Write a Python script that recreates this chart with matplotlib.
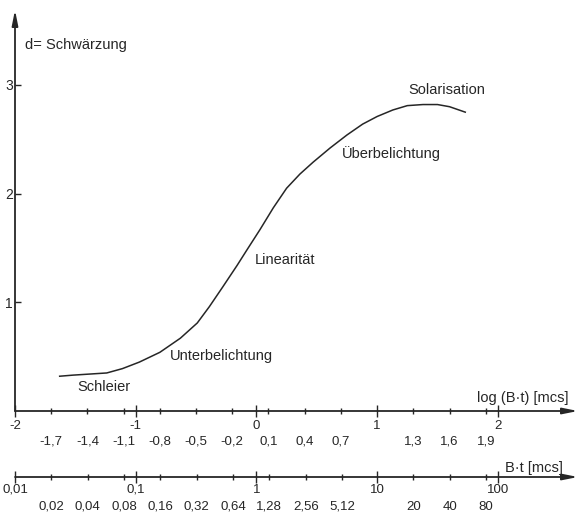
import numpy as np
import matplotlib
matplotlib.use("Agg")
import matplotlib.pyplot as plt

plt.rcParams['font.family'] = ['Liberation Sans', 'DejaVu Sans']

# characteristic curve: log(B*t) -> d
log_bt = [-1.63, -1.52, -1.38, -1.24, -1.11, -0.97, -0.80, -0.63, -0.49, -0.39,
          -0.28, -0.16, -0.08, 0.03, 0.14, 0.25, 0.36, 0.47, 0.61, 0.75,
          0.88, 1.00, 1.13, 1.25, 1.38, 1.50, 1.60, 1.73]
density = [0.32, 0.33, 0.34, 0.35, 0.39, 0.45, 0.54, 0.67, 0.81, 0.96,
           1.14, 1.34, 1.48, 1.67, 1.87, 2.05, 2.18, 2.29, 2.42, 2.54,
           2.64, 2.71, 2.77, 2.81, 2.82, 2.82, 2.80, 2.75]

log_major = [-2, -1, 0, 1, 2]
log_major_labels = ["-2", "-1", "0", "1", "2"]
log_minor = [-1.7, -1.4, -1.1, -0.8, -0.5, -0.2, 0.1, 0.4, 0.7, 1.3, 1.6, 1.9]
log_minor_labels = ["-1,7", "-1,4", "-1,1", "-0,8", "-0,5", "-0,2",
                    "0,1", "0,4", "0,7", "1,3", "1,6", "1,9"]

bt_major = [0.01, 0.1, 1, 10, 100]
bt_major_labels = ["0,01", "0,1", "1", "10", "100"]
bt_minor = [0.02, 0.04, 0.08, 0.16, 0.32, 0.64, 1.28, 2.56, 5.12, 20, 40, 80]
bt_minor_labels = ["0,02", "0,04", "0,08", "0,16", "0,32", "0,64",
                   "1,28", "2,56", "5,12", "20", "40", "80"]

d_ticks = [1, 2, 3]

INK = "#262626"
W, H = 579, 515


def fx(px):
    return px / W


def fy(py):
    return 1 - py / H


fig = plt.figure(figsize=(W / 100, H / 100), dpi=100)

# main diagram
ax = fig.add_axes([fx(15), fy(411), fx(578) - fx(15), fy(10) - fy(411)])
ax.set_xlim(-2, 2.664)
ax.set_ylim(0, 3.69)
for s in ax.spines.values():
    s.set_visible(False)
ax.patch.set_alpha(0)

ax.plot(log_bt, density, color=INK, lw=1.1)

arrow = dict(arrowstyle="-|>,head_length=0.9,head_width=0.18", lw=1.3,
             color=INK, shrinkA=0, shrinkB=0)
ax.annotate("", xy=(1, 0), xytext=(0, 0), xycoords="axes fraction",
            arrowprops=arrow, annotation_clip=False)
ax.annotate("", xy=(0, 1), xytext=(0, 0), xycoords="axes fraction",
            arrowprops=arrow, annotation_clip=False)

ax.set_xticks(log_major, log_major_labels)
ax.set_xticks(log_minor, log_minor_labels, minor=True)
ax.tick_params(axis="x", which="major", direction="inout", length=9,
               width=1, color=INK, labelcolor=INK, labelsize=9.5, pad=2)
ax.tick_params(axis="x", which="minor", direction="inout", length=4,
               width=1, color=INK, labelcolor=INK, labelsize=9.5, pad=16)
ax.set_yticks(d_ticks, [str(v) for v in d_ticks])
ax.tick_params(axis="y", direction="in", length=4, width=1, color=INK,
               labelcolor=INK, labelsize=10, pad=1.5)

txt = dict(color=INK, fontsize=10.5, ha="left", va="center")
ax.text(-1.918, 3.367, "d= Schwärzung", **txt)
ax.text(1.255, 2.953, "Solarisation", **txt)
ax.text(0.706, 2.374, "Überbelichtung", **txt)
ax.text(-0.012, 1.389, "Linearität", **txt)
ax.text(-0.72, 0.506, "Unterbelichtung", **txt)
ax.text(-1.487, 0.221, "Schleier", **txt)
ax.text(1.827, 0.12, "log (B·t) [mcs]", **txt)

# B*t scale below
ax2 = fig.add_axes([fx(15), fy(477), fx(578) - fx(15), 0.01])
ax2.set_xscale("log")
ax2.set_xlim(1e-2, 10 ** 2.664)
for s in ax2.spines.values():
    s.set_visible(False)
ax2.patch.set_alpha(0)
ax2.set_yticks([])
ax2.annotate("", xy=(1, 0), xytext=(0, 0), xycoords="axes fraction",
             arrowprops=arrow, annotation_clip=False)
ax2.set_xticks(bt_major, bt_major_labels)
ax2.set_xticks(bt_minor, bt_minor_labels, minor=True)
ax2.tick_params(axis="x", which="major", direction="inout", length=9,
                width=1, color=INK, labelcolor=INK, labelsize=9.5, pad=0.5)
ax2.tick_params(axis="x", which="minor", direction="inout", length=4,
                width=1, color=INK, labelcolor=INK, labelsize=9.5, pad=15)
fig.text(fx(505), fy(468), "B·t [mcs]", color=INK, fontsize=10.5,
         ha="left", va="center")

fig.savefig("out.png", dpi=100)
